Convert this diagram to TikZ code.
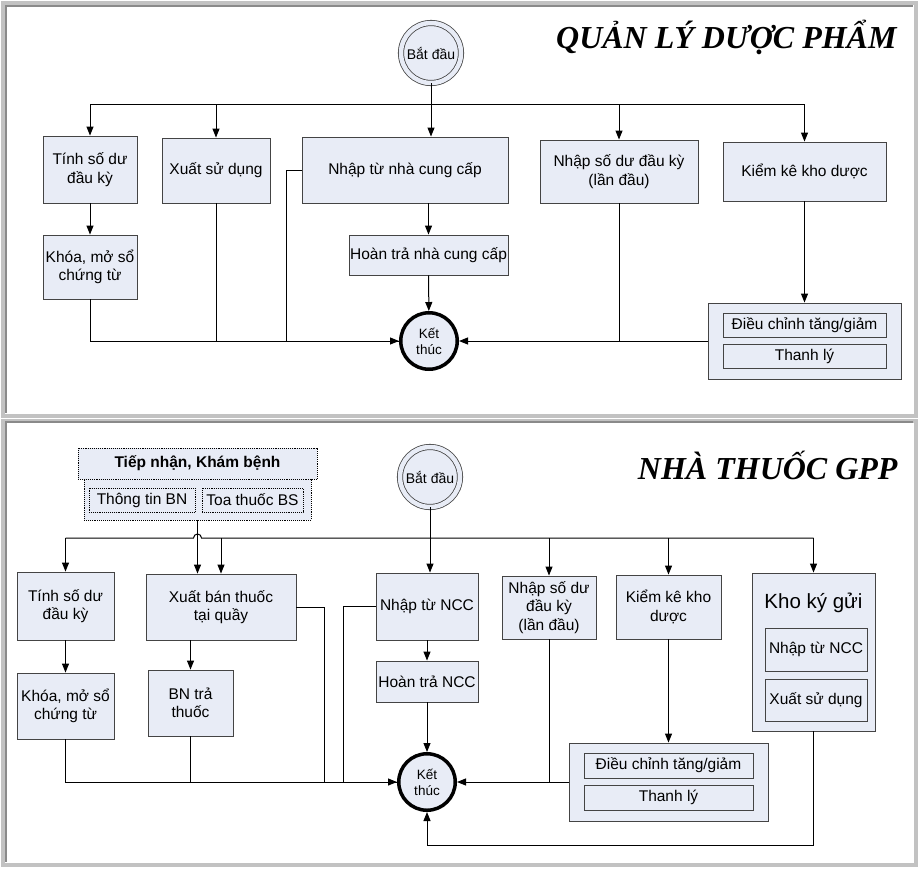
\documentclass[tikz,border=0pt]{standalone}
\usepackage{fontspec}
\setmainfont{Liberation Serif}
\setsansfont{Liberation Sans}
\usetikzlibrary{arrows.meta, calc}
\definecolor{boxfill}{HTML}{E8ECF6}
\definecolor{boxline}{HTML}{444444}
\definecolor{panelgray}{HTML}{C2C2C2}
\definecolor{paneldark}{HTML}{8A8A8A}

\begin{document}
\begin{tikzpicture}[
  x=1pt, y=-1pt, line width=1pt,
  sz/.style 2 args={minimum width=#1pt, minimum height=#2pt},
  box/.style={draw=boxline, fill=boxfill, line width=0.9pt, align=center, inner sep=1pt, font=\sffamily\fontsize{15.5}{18.5}\selectfont},
  grp/.style={box},
  dotbox/.style={box, draw=black, densely dotted},
  startc/.style={circle, draw=boxline, fill=boxfill, double=boxfill, double distance=4.5pt, line width=0.8pt, minimum size=60pt, inner sep=0pt, font=\sffamily\fontsize{14}{16}\selectfont},
  endc/.style={circle, draw=black, fill=boxfill, line width=3.5pt, minimum size=56.5pt, inner sep=0pt, align=center, font=\sffamily\fontsize{13.5}{16}\selectfont},
  title/.style={anchor=base east, inner sep=0pt, font=\rmfamily\bfseries\itshape\fontsize{32}{36}\selectfont},
  >={Triangle[length=9pt,width=7pt]}
]
  \useasboundingbox (0,0) rectangle (920,868);

  % Panel frames
  \draw[panelgray, line width=4pt] (3,3) rectangle (916,416);
  \draw[paneldark, line width=1.5pt] (5.75,413) -- (5.75,5.75) -- (913,5.75);
  \draw[panelgray, line width=4pt] (3,421) rectangle (916,865);
  \draw[paneldark, line width=1.5pt] (5.75,862) -- (5.75,421.75) -- (913,421.75);

  % ---------- QUAN LY DUOC PHAM ----------
  \node[title] (ttl1) at (897,48) {QUẢN LÝ DƯỢC PHẨM};
  \node[startc] (start1) at (431,53) {Bắt đầu};
  \node[endc] (end1) at (429,341) {Kết\\thúc};

  \node[box, sz={94}{67}] (tinh1) at (90,169.5) {Tính số dư\\đầu kỳ};
  \node[box, sz={94}{64}] (khoa1) at (90,267) {Khóa, mở sổ\\chứng từ};
  \node[box, sz={108}{65}] (xuat1) at (216,170.5) {Xuất sử dụng};
  \node[box, sz={206}{66}] (nhap1) at (405,170) {Nhập từ nhà cung cấp};
  \node[box, sz={159}{40}] (hoan1) at (428.5,255) {Hoàn trả nhà cung cấp};
  \node[box, sz={158}{63}] (nhapsd1) at (619,171.5) {Nhập số dư đầu kỳ\\(lần đầu)};
  \node[box, sz={163}{59}] (kiem1) at (804.5,171.5) {Kiểm kê kho dược};

  \node[grp, sz={193}{76}] (grp1) at (804.5,341) {};
  \node[box, sz={163}{24}] (dc1) at (804.5,325) {Điều chỉnh tăng/giảm};
  \node[box, sz={163}{24}] (tl1) at (804.5,356) {Thanh lý};

  % Bus from start
  \coordinate (bus1) at (431,104);
  \draw (tinh1.north |- bus1) -- (kiem1.north |- bus1);
  \draw[->] (start1) -- (start1 |- nhap1.north);
  \foreach \b in {tinh1, xuat1, nhapsd1, kiem1} {
    \draw[->] (\b.north |- bus1) -- (\b.north);
  }

  % Steps and joins to end
  \draw[->] (tinh1) -- (khoa1);
  \draw[->] (nhap1.south -| hoan1) -- (hoan1);
  \draw[->] (hoan1) -- (end1);
  \draw[->] (kiem1) -- (grp1);
  \draw[->] (khoa1) |- (end1);
  \draw (xuat1) -- (xuat1 |- end1);
  \draw (nhap1.west) -- ++(-15,0) |- (end1.west);
  \draw (nhapsd1) -- (nhapsd1 |- end1);
  \draw[->] (grp1) -- (end1);

  % ---------- NHA THUOC GPP ----------
  \node[title] (ttl2) at (898,479) {NHÀ THUỐC GPP};
  \node[startc] (start2) at (430,477) {Bắt đầu};
  \node[endc] (end2) at (427,782) {Kết\\thúc};

  \node[dotbox, sz={239}{31}, font=\sffamily\bfseries\fontsize{15.5}{18.5}\selectfont] (tiep) at (197.5,463.5) {Tiếp nhận, Khám bệnh};
  \node[dotbox, sz={227}{41}] (tiepbody) at (197.5,499.5) {};
  \node[dotbox, sz={106}{24}] (ttbn) at (142,500) {Thông tin BN};
  \node[dotbox, sz={101}{24}] (toa) at (252.5,500) {Toa thuốc BS};

  \node[box, sz={97}{68}] (tinh2) at (65.5,606) {Tính số dư\\đầu kỳ};
  \node[box, sz={97}{66}] (khoa2) at (65.5,706) {Khóa, mở sổ\\chứng từ};
  \node[box, sz={150}{66}] (xban) at (221,607) {Xuất bán thuốc\\tại quầy};
  \node[box, sz={85}{66}] (bntra) at (190.5,703) {BN trả\\thuốc};
  \node[box, sz={102}{67}] (nhapncc2) at (427,606.5) {Nhập từ NCC};
  \node[box, sz={102}{41}] (hoan2) at (427,681.5) {Hoàn trả NCC};
  \node[box, sz={94}{63}] (nhapsd2) at (549,607.5) {Nhập số dư\\đầu kỳ\\(lần đầu)};
  \node[box, sz={105}{64}] (kiem2) at (668.5,607) {Kiểm kê kho\\dược};

  \node[grp, sz={199}{78}] (grp2) at (668.5,782) {};
  \node[box, sz={169}{25}] (dc2) at (668.5,765.5) {Điều chỉnh tăng/giảm};
  \node[box, sz={169}{25}] (tl2) at (668.5,797.5) {Thanh lý};

  \node[grp, sz={123}{158}] (kho) at (813.5,652) {};
  \node[font=\sffamily\fontsize{20.5}{24}\selectfont, inner sep=0pt] (khottl) at (813.5,603) {Kho ký gửi};
  \node[box, sz={102}{43}] (khonhap) at (816,649.5) {Nhập từ NCC};
  \node[box, sz={102}{42}] (khoxuat) at (816,700) {Xuất sử dụng};

  % Bus from start, hopping over the reception line
  \coordinate (bus2) at (430,538);
  \draw (tinh2.north |- bus2) -- ($(tiepbody.south |- bus2)+(-4,0)$)
    arc[start angle=180, end angle=0, radius=4pt] -- (kho.north |- bus2);
  \draw[->] (start2) -- (start2 |- nhapncc2.north);
  \draw[->] (tiepbody) -- (tiepbody |- xban.north);
  \foreach \b in {tinh2, xban, nhapsd2, kiem2, kho} {
    \draw[->] (\b.north |- bus2) -- (\b.north);
  }

  % Steps and joins to end
  \draw[->] (tinh2) -- (khoa2);
  \draw[->] (xban.south -| bntra) -- (bntra);
  \draw[->] (nhapncc2) -- (hoan2);
  \draw[->] (hoan2) -- (end2);
  \draw[->] (kiem2) -- (grp2);
  \draw[->] (khoa2) |- (end2);
  \draw (bntra) -- (bntra |- end2);
  \draw (xban.east) -- ++(28,0) |- (end2.west);
  \draw (nhapncc2.west) -- ++(-32,0) |- (end2.west);
  \draw (nhapsd2) -- (nhapsd2 |- end2);
  \draw[->] (grp2) -- (end2);
  \draw[->] (kho.south) -- ++(0,114) -| (end2.south);
\end{tikzpicture}
\end{document}
